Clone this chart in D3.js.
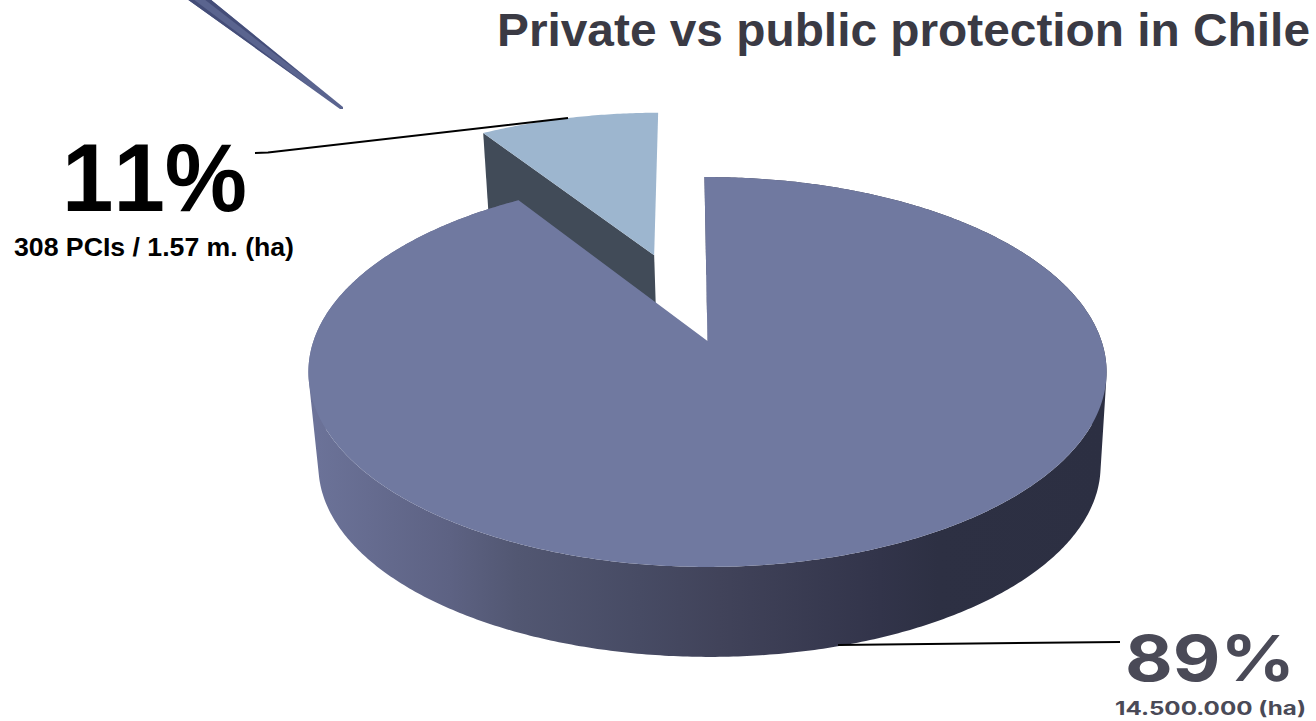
<!DOCTYPE html>
<html>
<head>
<meta charset="utf-8">
<style>
  html, body { margin: 0; background: #fff; overflow: hidden; }
  svg { display: block; }
</style>
<script src="https://cdn.jsdelivr.net/npm/d3@7"></script>
</head>
<body>
<script>
// values; the slices are drawn a bit narrower than the printed 11%
const categories = ["Private", "Public"];
const drawnShares = [9, 91];
const percentLabels = ["11%", "89%"];
const areaLabels = ["308 PCIs / 1.57 m. (ha)", "14.500.000 (ha)"];
const title = "Private vs public protection in Chile";

const width = 1316, height = 721;
const svg = d3.select("body").append("svg").attr("width", width).attr("height", height);

// perspective map of the unit disc, u to the right and v away from the viewer
const persp = 0.159;
function project(u, v, level) {
  const s = level === "bottom" ? 0.98 : 1;
  const cx = level === "bottom" ? 709.5 : 707.5;
  const cy = level === "bottom" ? 435.5 : 341;
  const d = 1 + persp * v;
  return [cx + s * 394 * u / d, cy - s * 190 * v / d];
}

const startAngle = -0.009;
const pie = d3.pie().value(d => d).sort(null)
  .startAngle(startAngle - 2 * Math.PI * drawnShares[0] / 100)
  .endAngle(startAngle + 2 * Math.PI * drawnShares[1] / 100);
const arcs = pie(drawnShares);
const line = d3.line();

function rim(a, offset, level) {
  const n = Math.ceil((a.endAngle - a.startAngle) / 0.01);
  return d3.range(n + 1).map(i => {
    const t = a.startAngle + (a.endAngle - a.startAngle) * i / n;
    return project(offset[0] + Math.sin(t), offset[1] + Math.cos(t), level);
  });
}

const defs = svg.append("defs");
const grad = defs.append("linearGradient").attr("id", "side")
  .attr("gradientUnits", "userSpaceOnUse")
  .attr("x1", 310).attr("x2", 1105).attr("y1", 0).attr("y2", 0);
[[0, "#6c7399"], [0.176, "#5d6283"], [0.26, "#525772"], [0.415, "#474b64"], [0.515, "#41435a"], [0.717, "#32344a"], [0.79, "#2d3043"], [1, "#2c2f42"]]
  .forEach(s => grad.append("stop").attr("offset", s[0]).attr("stop-color", s[1]));

// exploded slice goes first, the big slice covers the foot of its wall
const pub = arcs[0];
const mid = (pub.startAngle + pub.endAngle) / 2;
const explode = [0.507 * Math.sin(mid), 0.507 * Math.cos(mid)];
const pubTop = [project(explode[0], explode[1], "top")].concat(rim(pub, explode, "top"));
const wall = [
  project(explode[0], explode[1], "top"),
  pubTop[1],
  rim(pub, explode, "bottom")[0],
  project(explode[0], explode[1], "bottom")
];
svg.append("path").attr("d", line(wall) + "Z").attr("fill", "#414b58");
svg.append("path").attr("d", line(pubTop) + "Z").attr("fill", "#9db6cf");

// big slice: round side, start edge wall, top face
const priv = arcs[1];
const topRim = rim(priv, [0, 0], "top");
const bottomRim = rim(priv, [0, 0], "bottom");
// the two rims cross at the sides, so build the side from quads that all wind the same way
const sideQuads = d3.range(topRim.length - 1).map(i => {
  const q = [topRim[i], topRim[i + 1], bottomRim[i + 1], bottomRim[i]];
  return d3.polygonArea(q) < 0 ? q.reverse() : q;
});
svg.append("path")
  .attr("d", sideQuads.map(q => line(q) + "Z").join(""))
  .attr("fill", "url(#side)");
const startWall = [project(0, 0, "top"), topRim[0], bottomRim[0], project(0, 0, "bottom")];
svg.append("path").attr("d", line(startWall) + "Z").attr("fill", "#2c2f42");
svg.append("path").attr("d", line([project(0, 0, "top")].concat(topRim)) + "Z").attr("fill", "#7079a0");

// needle callout coming in from the top edge
svg.append("path").attr("d", line([[187, -1], [210, -1], [343, 107], [343, 109], [340, 109]]) + "Z").attr("fill", "#5a648f");
svg.append("path").attr("d", line([[187, -1], [193, -1], [310, 87]]) + "Z").attr("fill", "#444d78");
svg.append("path").attr("d", line([[204, -1], [210, -1], [310, 81]]) + "Z").attr("fill", "#444d78");

// leader lines
svg.append("path").attr("d", "M255,153 L268,152.5 L568,118").attr("fill", "none").attr("stroke", "#000").attr("stroke-width", 2);
svg.append("path").attr("d", "M838,645 L1120,642").attr("fill", "none").attr("stroke", "#000").attr("stroke-width", 2);

svg.append("text").text(title)
  .attr("x", 497).attr("y", 46)
  .attr("textLength", 813).attr("lengthAdjust", "spacingAndGlyphs")
  .attr("font-family", "Liberation Sans").attr("font-weight", 700).attr("font-size", 47)
  .attr("fill", "#3a3a44");

svg.append("text").text(percentLabels[0])
  .attr("x", 62).attr("y", 211)
  .attr("textLength", 185).attr("lengthAdjust", "spacingAndGlyphs")
  .style("font-kerning", "none")
  .attr("font-family", "Liberation Sans").attr("font-weight", 700).attr("font-size", 96)
  .attr("fill", "#000");

svg.append("text").text(areaLabels[0])
  .attr("x", 14).attr("y", 256)
  .attr("textLength", 280).attr("lengthAdjust", "spacingAndGlyphs")
  .attr("font-family", "Liberation Sans").attr("font-weight", 700).attr("font-size", 26)
  .attr("fill", "#000");

svg.append("text").text(percentLabels[1])
  .attr("x", 1125).attr("y", 681)
  .attr("textLength", 170).attr("lengthAdjust", "spacingAndGlyphs")
  .attr("font-family", "Inter").attr("font-weight", 700).attr("font-size", 63)
  .attr("fill", "#4a4a57");

svg.append("text").text(areaLabels[1])
  .attr("x", 1115).attr("y", 715)
  .attr("textLength", 191).attr("lengthAdjust", "spacingAndGlyphs")
  .attr("font-family", "Inter").attr("font-weight", 700).attr("font-size", 19)
  .attr("fill", "#4a4a57");
</script>
</body>
</html>
